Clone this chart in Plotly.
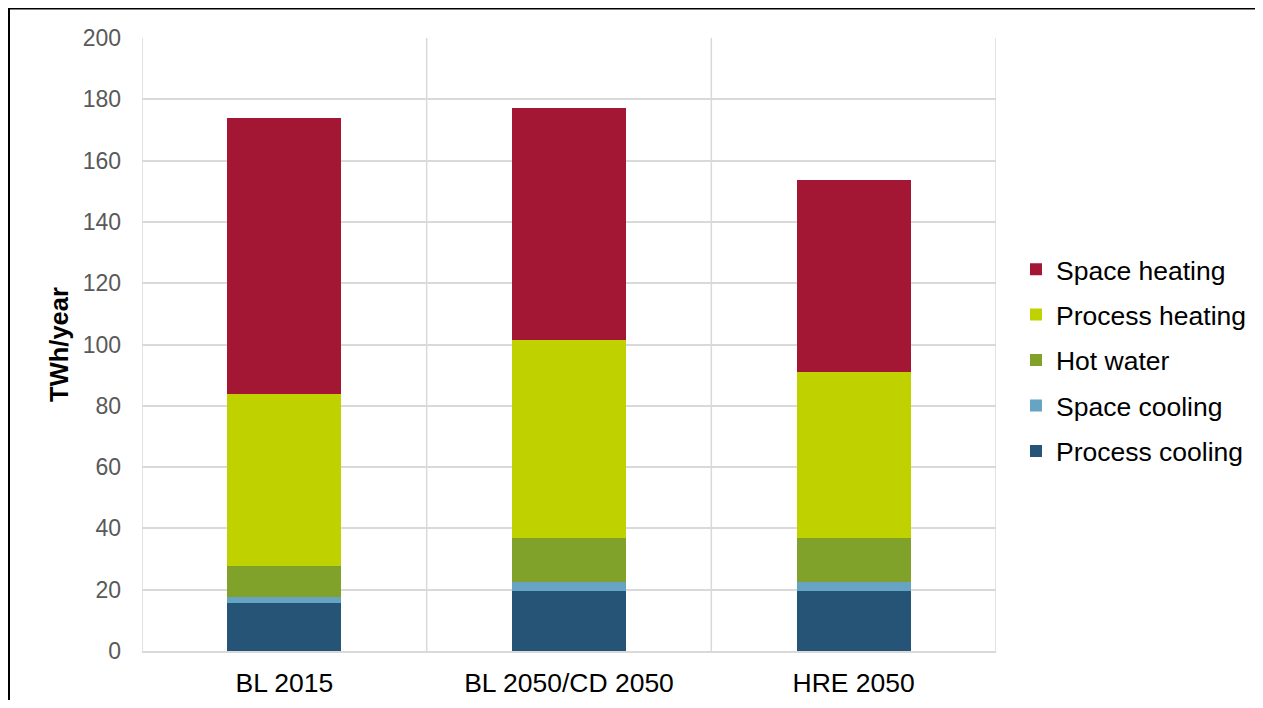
import plotly.graph_objects as go

categories = ["BL 2015", "BL 2050/CD 2050", "HRE 2050"]
process_cooling = [15.7, 19.6, 19.6]
space_cooling = [1.9, 2.9, 2.9]
hot_water = [10.1, 14.4, 14.4]
process_heating = [56.1, 64.6, 54.1]
space_heating = [90.1, 75.7, 62.7]
y_ticks = [0, 20, 40, 60, 80, 100, 120, 140, 160, 180, 200]

series = [
    ("Process cooling", process_cooling, "#265477"),
    ("Space cooling", space_cooling, "#67A3C2"),
    ("Hot water", hot_water, "#80A22A"),
    ("Process heating", process_heating, "#BFD200"),
    ("Space heating", space_heating, "#A31735"),
]

fig = go.Figure()
n = len(series)
for i, (name, vals, col) in enumerate(series):
    fig.add_trace(go.Bar(
        x=categories, y=vals, name=name, marker_color=col,
        marker_line_width=0, legendgroup=name, legendrank=n - i,
    ))

OFF = 8  # page body margin
W, H = 1263 - 2 * OFF, 708 - 2 * OFF
L, R, T, B = 142 - OFF, 996 - OFF, 38 - OFF, 651 - OFF
pw, ph = R - L, B - T

def px(x):
    return (x - L) / pw

def py(y):
    return (B - y) / ph

shapes = []
for xv in [-0.5, 0.5, 1.5, 2.5]:
    shapes.append(dict(type="line", xref="x", yref="paper", x0=xv, x1=xv, y0=0, y1=1,
                       line=dict(color="#D9D9D9", width=1.5), layer="below"))
# outer frame (left and top)
shapes.append(dict(type="path", xref="paper", yref="paper",
                   path=f"M {px(1)} {py(712)} L {px(1)} {py(0.5)} L {px(1270)} {py(0.5)}",
                   line=dict(color="black", width=2)))

fig.update_layout(
    width=W, height=H,
    margin=dict(l=L, r=W - R, t=T, b=H - B, pad=0, autoexpand=False),
    barmode="stack", bargap=0.6,
    plot_bgcolor="white", paper_bgcolor="white",
    font=dict(family="Liberation Sans, Arial", color="#595959", size=23),
    shapes=shapes,
    legend=dict(
        traceorder="grouped", tracegroupgap=8,
        x=1.0234, xanchor="left", y=0.474, yanchor="middle",
        font=dict(size=26.5, color="black"),
        bgcolor="rgba(0,0,0,0)",
    ),
    showlegend=True,
)
fig.update_xaxes(
    range=[-0.5, 2.5], showgrid=False, showline=True, linecolor="#D9D9D9", linewidth=1.5,
    ticks="", tickfont=dict(size=26.5, color="black"), fixedrange=True,
    ticklabelstandoff=7, automargin=False,
)
fig.update_yaxes(
    range=[0, 200], tickvals=y_ticks, showgrid=True, gridcolor="#D9D9D9", gridwidth=1.5,
    zeroline=False, showline=False, ticks="", ticklabelstandoff=20, automargin=False,
    title=dict(text="<b>TWh/year</b>", font=dict(size=25.5, color="black"), standoff=6),
    tickfont=dict(size=23, color="#595959"),
)

fig.write_html("out.html")
